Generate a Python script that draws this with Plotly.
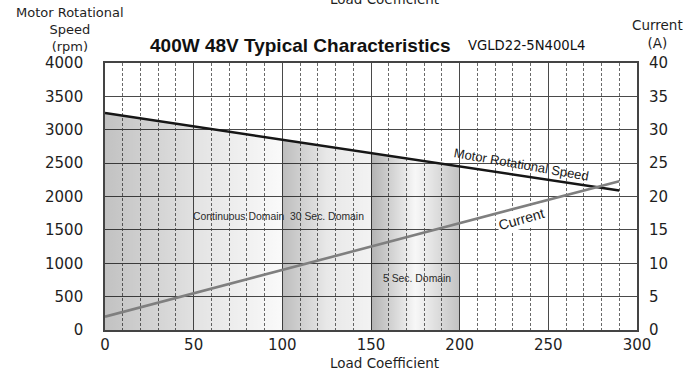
import plotly.graph_objects as go

# Load coefficient samples and the two characteristic curves
load = [0, 50, 100, 150, 200, 250, 290]
speed_rpm = [3250, 3050, 2850, 2650, 2450, 2250, 2090]
current_a = [2.0, 5.5, 9.0, 12.5, 16.0, 19.5, 22.3]

# Shaded operating domains (start/end index into `load`)
domain_spans = [(0, 1), (1, 2), (2, 3), (3, 4)]
domain_shades = [
    [[0, "rgba(0,0,0,0.24)"], [1, "rgba(0,0,0,0.12)"]],
    [[0, "rgba(0,0,0,0.11)"], [1, "rgba(0,0,0,0.02)"]],
    [[0, "rgba(0,0,0,0.26)"], [0.5, "rgba(0,0,0,0.09)"], [1, "rgba(0,0,0,0.05)"]],
    [[0, "rgba(0,0,0,0.30)"], [0.5, "rgba(0,0,0,0.03)"], [1, "rgba(0,0,0,0.24)"]],
]

left_ticks = list(range(0, 4001, 500))
right_ticks = list(range(0, 41, 5))
x_ticks = list(range(0, 301, 50))

BODY = "DejaVu Sans, Liberation Sans, Arial, sans-serif"
HEAD = "Liberation Sans, Arial, Helvetica, sans-serif"

fig = go.Figure()

for (i0, i1), shade in zip(domain_spans, domain_shades):
    fig.add_trace(go.Scatter(
        x=[load[i0], load[i1]],
        y=[speed_rpm[i0], speed_rpm[i1]],
        mode="lines", line=dict(width=0),
        fill="tozeroy",
        fillgradient=dict(type="horizontal", colorscale=shade),
        hoverinfo="skip", showlegend=False,
    ))

fig.add_trace(go.Scatter(
    x=load, y=speed_rpm, mode="lines",
    line=dict(color="#161616", width=2.6),
    name="Motor Rotational Speed", showlegend=False,
))
fig.add_trace(go.Scatter(
    x=load, y=current_a, mode="lines", yaxis="y2",
    line=dict(color="#7f7f7f", width=2.6),
    name="Current", showlegend=False,
))

grid_solid = "#4a4a4a"
fig.update_layout(
    width=698, height=376,
    margin=dict(l=105, r=61, t=63, b=46),
    paper_bgcolor="white", plot_bgcolor="white",
    font=dict(family=BODY, size=15, color="#1e1e1e"),
    xaxis=dict(
        range=[0, 300], tickvals=x_ticks, ticktext=[str(v) for v in x_ticks],
        showgrid=True, gridcolor=grid_solid, gridwidth=1.3,
        minor=dict(dtick=10, showgrid=True, gridcolor="#6a6a6a",
                   griddash="3px,2px", gridwidth=1.2),
        showline=True, mirror=True, linecolor="#444", linewidth=1.6,
        zeroline=False, ticks="",
        tickfont=dict(size=15, family=BODY, color="#1e1e1e"),
    ),
    yaxis=dict(
        range=[0, 4000], tickvals=left_ticks, ticktext=[str(v) for v in left_ticks],
        showgrid=True, gridcolor=grid_solid, gridwidth=1.3,
        showline=True, mirror=True, linecolor="#444", linewidth=1.6,
        zeroline=False, ticks="outside", ticklen=17, tickcolor="rgba(0,0,0,0)",
        tickfont=dict(size=15, family=BODY, color="#1e1e1e"),
    ),
    yaxis2=dict(
        range=[0, 40], tickvals=right_ticks, ticktext=[str(v) for v in right_ticks],
        overlaying="y", side="right", showgrid=False, zeroline=False,
        ticks="outside", ticklen=8, tickcolor="rgba(0,0,0,0)",
        tickfont=dict(size=15, family=BODY, color="#1e1e1e"),
    ),
)

axis_font = dict(family=BODY, size=13.5, color="#1e1e1e")
annotations = [
    # chart title and model name
    dict(text="<b>400W 48V Typical Characteristics</b>", x=0.081, y=1.0674,
         xanchor="left", yanchor="middle",
         font=dict(family=HEAD, size=19, color="#111")),
    dict(text="VGLD22-5N400L4", x=0.679, y=1.0674, xanchor="left", yanchor="middle",
         font=dict(family=BODY, size=13.2, color="#111")),
    # axis titles
    dict(text="Motor Rotational<br>Speed<br>(rpm)", x=-0.066, y=1.127,
         xanchor="center", yanchor="middle", align="center", borderpad=0,
         font=dict(family=BODY, size=13, color="#1e1e1e")),
    dict(text="Current<br>(A)", x=1.0376, y=1.1086, xanchor="center", yanchor="middle",
         align="center", font=axis_font),
    # x axis title (repeated above the frame as well)
    dict(text="Load Coefficient", x=0.526, y=-0.1236, xanchor="center", yanchor="middle",
         font=axis_font),
    dict(text="Load Coefficient", x=0.526, y=1.24, xanchor="center", yanchor="middle",
         font=axis_font),
]
for a in annotations:
    a.update(xref="paper", yref="paper", showarrow=False)

# domain labels
for txt, xv, yv in [("Continuous Domain", 75, 1700),
                    ("30 Sec. Domain", 125, 1700),
                    ("5 Sec. Domain", 176, 770)]:
    annotations.append(dict(text=txt, x=xv, y=yv, xref="x", yref="y",
                            showarrow=False,
                            font=dict(family=HEAD, size=10.4, color="#2a2a2a")))

# curve labels
annotations.append(dict(text="Motor Rotational Speed", x=235, y=3250 - 4 * 235,
                        xref="x", yref="y", yshift=11, textangle=10, showarrow=False,
                        font=dict(family=HEAD, size=13, color="#1a1a1a")))
annotations.append(dict(text="Current", x=235, y=(2.0 + 0.07 * 235) * 100,
                        xref="x", yref="y", yshift=-12, textangle=-16, showarrow=False,
                        bgcolor="white", borderpad=1,
                        font=dict(family=HEAD, size=14, color="#1a1a1a")))

fig.update_layout(annotations=annotations)
fig.write_html("out.html")
